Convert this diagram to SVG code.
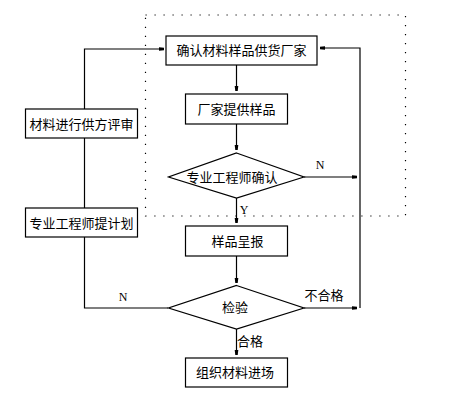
<svg xmlns="http://www.w3.org/2000/svg" width="453" height="400" viewBox="0 0 453 400">
<defs>
<marker id="a" markerUnits="userSpaceOnUse" markerWidth="8" markerHeight="6" viewBox="0 -3 6 6" refX="5" refY="0" orient="auto">
<path d="M0,-1.8 L5,-1.2 L5,1.2 L0,1.8 z" fill="#000"/>
</marker>
<style>
.b{fill:#fff;stroke:#000;stroke-width:1.2}
.l{fill:none;stroke:#000;stroke-width:1.2}
.t{font-family:"Noto Sans CJK SC","Noto Sans CJK TC",sans-serif;font-size:13px;fill:#000;text-anchor:middle}
.s{font-family:"Liberation Serif","DejaVu Serif",serif;font-size:12px;fill:#000;text-anchor:middle}
</style>
</defs>
<rect width="453" height="400" fill="#fff"/>
<rect x="145.5" y="15" width="260" height="201" fill="none" stroke="#000" stroke-width="1.2" stroke-dasharray="1.2 7.8"/>
<g id="connectors">
<polyline class="l" points="168,308 84.5,308 84.5,237"/>
<line class="l" x1="84.5" y1="208" x2="84.5" y2="138"/>
<polyline class="l" points="84.5,109 84.5,49 164,49" marker-end="url(#a)"/>
<line class="l" x1="236.5" y1="65" x2="236.5" y2="91" marker-end="url(#a)"/>
<line class="l" x1="236.5" y1="124" x2="236.5" y2="150" marker-end="url(#a)"/>
<line class="l" x1="236.5" y1="198" x2="236.5" y2="223" marker-end="url(#a)"/>
<line class="l" x1="236.5" y1="256" x2="236.5" y2="283" marker-end="url(#a)"/>
<line class="l" x1="236.5" y1="329" x2="236.5" y2="355" marker-end="url(#a)"/>
<line class="l" x1="304" y1="177" x2="357" y2="177" marker-end="url(#a)"/>
<line class="l" x1="304" y1="308" x2="357" y2="308" marker-end="url(#a)"/>
<polyline class="l" points="360,308 360,48 320,48" marker-end="url(#a)"/>
<text class="s" x="320" y="169">N</text>
<text class="s" x="244" y="214">Y</text>
<text class="s" x="123" y="301">N</text>
<text class="t" x="324" y="300">不合格</text>
<text class="t" x="250" y="346">合格</text>
</g>
<g id="n1"><rect class="b" x="166" y="36" width="151" height="29"/><text class="t" x="241.5" y="55">确认材料样品供货厂家</text></g>
<g id="n2"><rect class="b" x="185.5" y="94" width="102" height="30"/><text class="t" x="236.5" y="114">厂家提供样品</text></g>
<g id="n3"><polygon class="b" points="236.5,153 304,177 236.5,198 168.5,177"/><text class="t" x="232" y="181.5">专业工程师确认</text></g>
<g id="n4"><rect class="b" x="185.5" y="226" width="102" height="30"/><text class="t" x="237.5" y="246">样品呈报</text></g>
<g id="n5"><polygon class="b" points="236.5,285.5 304,308 236.5,329 168.5,308"/><text class="t" x="235" y="312">检验</text></g>
<g id="n6"><rect class="b" x="185.5" y="358" width="102" height="29"/><text class="t" x="235" y="377">组织材料进场</text></g>
<g id="n7"><rect class="b" x="25.5" y="109" width="112" height="29"/><text class="t" x="81.5" y="128.5">材料进行供方评审</text></g>
<g id="n8"><rect class="b" x="25.5" y="208" width="112" height="29"/><text class="t" x="81.5" y="227.5">专业工程师提计划</text></g>
</svg>
